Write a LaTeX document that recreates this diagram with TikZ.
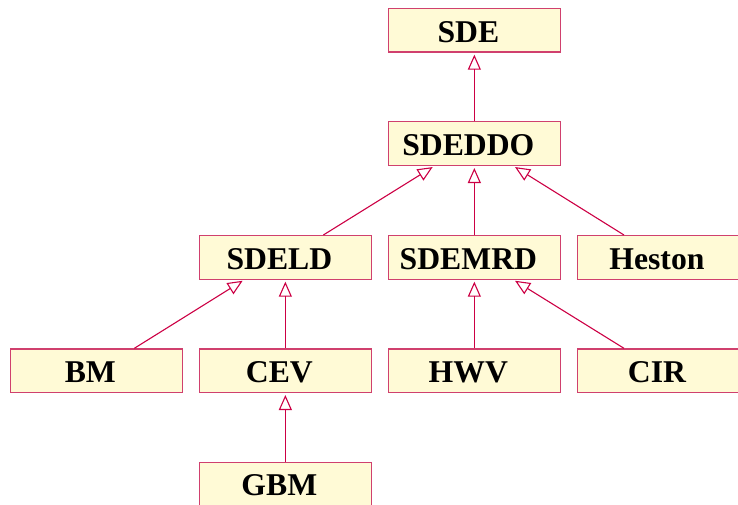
\documentclass[tikz,border=0pt]{standalone}
\usepackage{fontspec}
\setmainfont{Liberation Serif}
\usetikzlibrary{arrows.meta}
\definecolor{boxfill}{RGB}{255,250,214}
\definecolor{boxline}{RGB}{208,64,110}
\definecolor{linkline}{RGB}{204,0,68}
\tikzset{
  cls/.style={draw=boxline, fill=boxfill, line width=1.2pt, rectangle,
    anchor=north west, minimum width=171.5pt, minimum height=43.5pt,
    inner sep=0pt, text height=24pt, text depth=0pt,
    font=\fontsize{31.7}{36}\selectfont\bfseries,
    execute at end node=\hspace*{12pt}},
  inherit/.style={draw=linkline, line width=1.1pt, shorten >=2pt,
    -{Triangle[open, width=13pt, length=15pt]}}
}
\begin{document}
\begin{tikzpicture}[x=1pt, y=-1pt]
\useasboundingbox (0,0) rectangle (738,505);
\clip (0,0) rectangle (738,505);
% class boxes
\node[cls] (sde)    at (388,8)     {SDE};
\node[cls] (sdeddo) at (388,121.3) {SDEDDO};
\node[cls] (sdeld)  at (199,235)   {SDELD};
\node[cls] (sdemrd) at (388,235)   {SDEMRD};
\node[cls] (heston) at (576.6,235) {Heston};
\node[cls] (bm)     at (10,348.3)  {BM};
\node[cls] (cev)    at (199,348.3) {CEV};
\node[cls] (hwv)    at (388,348.3) {HWV};
\node[cls] (cir)    at (576.6,348.3) {CIR};
\node[cls] (gbm)    at (199,461.6) {GBM};
% inheritance links
\draw[inherit] (sdeddo.north) -- (sde.south);
\draw[inherit] ([xshift=38pt]sdeld.north) -- ([xshift=-40pt]sdeddo.south);
\draw[inherit] (sdemrd.north) -- (sdeddo.south);
\draw[inherit] ([xshift=-39pt]heston.north) -- ([xshift=39pt]sdeddo.south);
\draw[inherit] ([xshift=38pt]bm.north) -- ([xshift=-41pt]sdeld.south);
\draw[inherit] (cev.north) -- (sdeld.south);
\draw[inherit] (hwv.north) -- (sdemrd.south);
\draw[inherit] ([xshift=-39pt]cir.north) -- ([xshift=39pt]sdemrd.south);
\draw[inherit] (gbm.north) -- (cev.south);
\end{tikzpicture}
\end{document}
